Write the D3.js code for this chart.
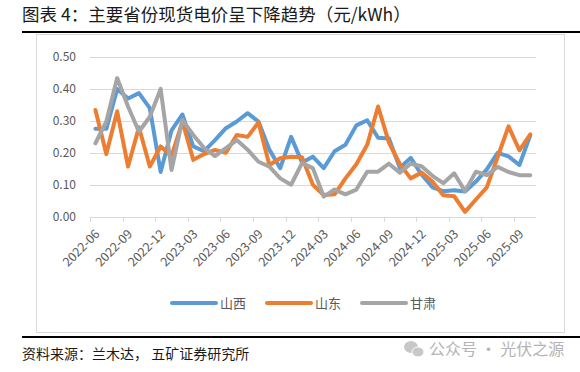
<!DOCTYPE html>
<html>
<head>
<meta charset="utf-8">
<script src="https://cdn.jsdelivr.net/npm/d3@7"></script>
<style>
    body { margin: 0; background: #fff; }
    svg { display: block; font-family: "Noto Sans CJK SC", "Noto Sans", sans-serif; }
</style>
</head>
<body>
<div id="chart"></div>
<script>
const months = [
    "2022-06", "2022-07", "2022-08", "2022-09", "2022-10", "2022-11", "2022-12",
    "2023-01", "2023-02", "2023-03", "2023-04", "2023-05", "2023-06", "2023-07",
    "2023-08", "2023-09", "2023-10", "2023-11", "2023-12", "2024-01", "2024-02",
    "2024-03", "2024-04", "2024-05", "2024-06", "2024-07", "2024-08", "2024-09",
    "2024-10", "2024-11", "2024-12", "2025-01", "2025-02", "2025-03", "2025-04",
    "2025-05", "2025-06", "2025-07", "2025-08", "2025-09", "2025-10"
];

// 山西
const shanxi = [
    0.275, 0.275, 0.400, 0.370, 0.387, 0.340, 0.140, 0.270, 0.320, 0.220,
    0.205, 0.240, 0.277, 0.298, 0.324, 0.298, 0.210, 0.152, 0.250, 0.170,
    0.188, 0.152, 0.205, 0.225, 0.286, 0.302, 0.247, 0.245, 0.153, 0.184,
    0.132, 0.092, 0.080, 0.083, 0.079, 0.110, 0.148, 0.200, 0.189, 0.162,
    0.255
];
// 山东
const shandong = [
    0.334, 0.196, 0.330, 0.157, 0.280, 0.157, 0.220, 0.190, 0.298, 0.178,
    0.196, 0.209, 0.200, 0.256, 0.250, 0.295, 0.162, 0.183, 0.188, 0.186,
    0.100, 0.068, 0.070, 0.120, 0.164, 0.225, 0.345, 0.232, 0.165, 0.120,
    0.138, 0.110, 0.067, 0.064, 0.015, 0.054, 0.092, 0.187, 0.283, 0.208,
    0.258
];
// 甘肃
const gansu = [
    0.230, 0.298, 0.434, 0.345, 0.266, 0.313, 0.400, 0.146, 0.303, 0.256,
    0.215, 0.190, 0.215, 0.240, 0.210, 0.172, 0.157, 0.120, 0.100, 0.168,
    0.152, 0.063, 0.085, 0.070, 0.085, 0.141, 0.141, 0.166, 0.138, 0.166,
    0.158, 0.128, 0.105, 0.136, 0.080, 0.141, 0.130, 0.156, 0.140, 0.130,
    0.130
];

const seriesNames = ["山西", "山东", "甘肃"];
const seriesColors = ["#5B9BD5", "#ED7D31", "#A5A5A5"];
const yTicks = [0, 0.1, 0.2, 0.3, 0.4, 0.5];

const titleText = "图表 4：主要省份现货电价呈下降趋势（元/kWh）";
const sourceText = "资料来源：兰木达， 五矿证券研究所";
const watermarkText = "公众号 · 光伏之源";

class PriceLineChart {

    constructor(_config) {
        this.config = {
            parentElement: _config.parentElement,
            containerWidth: 580,
            containerHeight: 372,
            plot: {left: 90, right: 535.7, top: 57, bottom: 216.7}
        }
        this.series = seriesNames.map((name, i) => ({
            name: name,
            color: seriesColors[i],
            values: [shanxi, shandong, gansu][i]
        }));
        this.initVis();
    }

    initVis() {
        let vis = this;
        const p = vis.config.plot;

        vis.svg = d3.select(vis.config.parentElement).append("svg")
            .attr("width", vis.config.containerWidth)
            .attr("height", vis.config.containerHeight);

        vis.xScale = d3.scaleBand()
            .domain(months)
            .range([p.left, p.right])
            .padding(0);

        vis.yScale = d3.scaleLinear()
            .domain([0, 0.5])
            .range([p.bottom, p.top]);

        // Title + rules
        vis.svg.append("text")
            .attr("x", 22)
            .attr("y", 21)
            .attr("font-size", 17.5)
            .attr("fill", "#1a1a1a")
            .text(titleText);

        vis.svg.append("line")
            .attr("x1", 22).attr("x2", 580)
            .attr("y1", 32).attr("y2", 32)
            .attr("stroke", "#000").attr("stroke-width", 2);

        vis.svg.append("rect")
            .attr("x", 36.5).attr("y", 34.5)
            .attr("width", 528).attr("height", 298)
            .attr("fill", "none")
            .attr("stroke", "#d9d9d9");

        vis.svg.append("line")
            .attr("x1", 22).attr("x2", 580)
            .attr("y1", 337).attr("y2", 337)
            .attr("stroke", "#000").attr("stroke-width", 2);

        vis.svg.append("text")
            .attr("x", 22)
            .attr("y", 359)
            .attr("font-size", 14)
            .attr("fill", "#1a1a1a")
            .text(sourceText);

        vis.renderVis();
    }

    renderVis() {
        let vis = this;
        const p = vis.config.plot;

        // gridlines
        vis.svg.append("g")
            .selectAll("line")
            .data(yTicks.slice(1))
            .join("line")
            .attr("x1", p.left).attr("x2", p.right)
            .attr("y1", d => Math.round(vis.yScale(d)) + 0.5)
            .attr("y2", d => Math.round(vis.yScale(d)) + 0.5)
            .attr("stroke", "#d9d9d9")
            .attr("stroke-width", 1.2);

        // y labels
        vis.svg.append("g")
            .selectAll("text")
            .data(yTicks)
            .join("text")
            .attr("x", 76)
            .attr("y", d => vis.yScale(d))
            .attr("dy", "0.35em")
            .attr("text-anchor", "end")
            .attr("font-size", 12)
            .attr("fill", "#595959")
            .text(d3.format(".2f"));

        // x axis line + ticks
        const xAxisG = vis.svg.append("g");
        xAxisG.append("line")
            .attr("x1", p.left).attr("x2", p.right)
            .attr("y1", Math.round(p.bottom) + 0.5).attr("y2", Math.round(p.bottom) + 0.5)
            .attr("stroke", "#d9d9d9")
            .attr("stroke-width", 1.2);

        const tickMonths = months.filter((d, i) => i % 3 === 0);

        xAxisG.selectAll("line.tick")
            .data(tickMonths)
            .join("line")
            .attr("class", "tick")
            .attr("x1", d => Math.round(vis.xScale(d)) + 0.5)
            .attr("x2", d => Math.round(vis.xScale(d)) + 0.5)
            .attr("y1", p.bottom)
            .attr("y2", p.bottom + 5)
            .attr("stroke", "#d9d9d9")
            .attr("stroke-width", 1.2);

        xAxisG.selectAll("text")
            .data(tickMonths)
            .join("text")
            .attr("transform", d => {
                const cx = vis.xScale(d) + vis.xScale.bandwidth() / 2 + 2;
                return `translate(${cx},${p.bottom + 15}) rotate(-45)`;
            })
            .attr("dy", "0.35em")
            .attr("text-anchor", "end")
            .attr("font-size", 12.5)
            .attr("fill", "#595959")
            .text(d => d);

        // lines
        const line = d3.line()
            .x((d, i) => vis.xScale(months[i]) + vis.xScale.bandwidth() / 2)
            .y(d => vis.yScale(d));

        vis.svg.append("g")
            .selectAll("path")
            .data(vis.series)
            .join("path")
            .attr("d", d => line(d.values))
            .attr("fill", "none")
            .attr("stroke", d => d.color)
            .attr("stroke-width", 4)
            .attr("stroke-linejoin", "round")
            .attr("stroke-linecap", "round");

        // legend
        const legendX = [172, 267, 362];
        const legend = vis.svg.append("g")
            .selectAll("g")
            .data(vis.series)
            .join("g")
            .attr("transform", (d, i) => `translate(${legendX[i]},303)`);

        legend.append("line")
            .attr("x1", 0).attr("x2", 44)
            .attr("stroke", d => d.color)
            .attr("stroke-width", 4)
            .attr("stroke-linecap", "round");

        legend.append("text")
            .attr("x", 48)
            .attr("dy", "0.35em")
            .attr("font-size", 13)
            .attr("fill", "#595959")
            .text(d => d.name);

        // watermark
        const wm = vis.svg.append("g").attr("transform", "translate(404,349)");
        wm.append("ellipse")
            .attr("cx", 7).attr("cy", -2).attr("rx", 7).attr("ry", 6)
            .attr("fill", "#c8c8c8");
        wm.append("ellipse")
            .attr("cx", 14).attr("cy", 3).attr("rx", 6).attr("ry", 5)
            .attr("fill", "#c8c8c8").attr("stroke", "#fff").attr("stroke-width", 1);
        wm.append("text")
            .attr("x", 25)
            .attr("dy", "0.35em")
            .attr("font-size", 16)
            .attr("fill", "#b4b4b4")
            .text(watermarkText);
    }
}

new PriceLineChart({parentElement: "#chart"});
</script>
</body>
</html>
